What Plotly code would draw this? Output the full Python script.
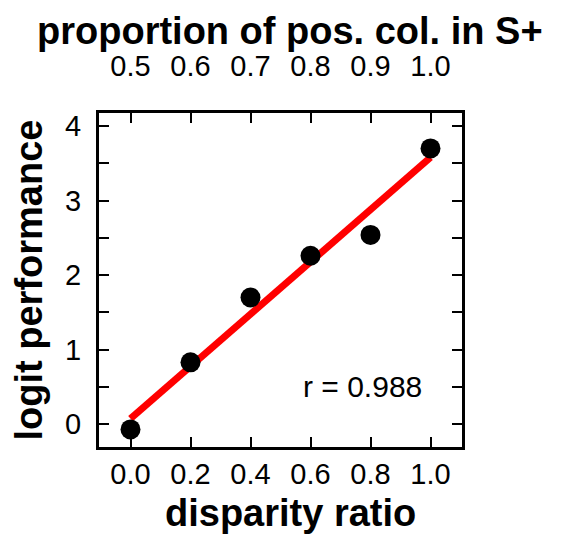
import numpy as np
import plotly.graph_objects as go

disparity = [0.0, 0.2, 0.4, 0.6, 0.8, 1.0]
logit_perf = [-0.07, 0.83, 1.70, 2.26, 2.54, 3.70]
bottom_ticks = [0.0, 0.2, 0.4, 0.6, 0.8, 1.0]
bottom_labels = ["0.0", "0.2", "0.4", "0.6", "0.8", "1.0"]
top_labels = ["0.5", "0.6", "0.7", "0.8", "0.9", "1.0"]
y_ticks = [0, 0.5, 1, 1.5, 2, 2.5, 3, 3.5, 4]
y_labels = ["0", "", "1", "", "2", "", "3", "", "4"]
r_text = "r = 0.988"

slope, intercept = np.polyfit(disparity, logit_perf, 1)
fit_x = [disparity[0], disparity[-1]]
fit_y = [intercept + slope * v for v in fit_x]

FONT = "Liberation Sans, Arial, sans-serif"
TICKF = dict(family=FONT, size=29, color="black")
TITLEF = dict(family=FONT, size=38, color="black")

fig = go.Figure()
fig.add_trace(go.Scatter(x=fit_x, y=fit_y, mode="lines",
                         line=dict(color="#ff0000", width=7), showlegend=False))
fig.add_trace(go.Scatter(x=disparity, y=logit_perf, mode="markers",
                         marker=dict(color="black", size=20), showlegend=False))
fig.add_trace(go.Scatter(x=disparity, y=logit_perf, xaxis="x2", mode="markers",
                         marker=dict(opacity=0), hoverinfo="skip", showlegend=False))

xr = [-0.105, 1.105]
common = dict(range=xr, tickvals=bottom_ticks, ticks="inside", ticklen=10, tickwidth=2,
              tickcolor="black", showgrid=False, zeroline=False, tickfont=TICKF)
fig.update_layout(
    width=577, height=549,
    margin=dict(l=0, r=0, t=0, b=0),
    plot_bgcolor="white", paper_bgcolor="white",
    xaxis=dict(**common, ticktext=bottom_labels, showline=True, linewidth=3, linecolor="black",
               mirror=True, ticklabelstandoff=0, domain=[99 / 577, 462 / 577]),
    xaxis2=dict(**common, ticktext=top_labels, overlaying="x", side="top", showline=False,
                ticklabelstandoff=31),
    yaxis=dict(range=[-0.3, 4.17], tickvals=y_ticks, ticktext=y_labels, ticks="inside",
               ticklen=10, tickwidth=2, tickcolor="black", showline=True, linewidth=3,
               linecolor="black", mirror="ticks", showgrid=False, zeroline=False,
               tickfont=TICKF, ticklabelstandoff=9, domain=[1 - 446 / 549, 1 - 111 / 549]),
    annotations=[
        dict(x=0.774, y=0.51, xref="x", yref="y", text=r_text, showarrow=False,
             font=dict(family=FONT, size=30, color="black")),
        dict(x=290 / 577, y=1 - 28 / 549, xref="paper", yref="paper", text="<b>proportion of pos. col. in S+</b>",
             showarrow=False, font=TITLEF, xanchor="center", yanchor="middle"),
        dict(x=290 / 577, y=1 - 513 / 549, xref="paper", yref="paper", text="<b>disparity ratio</b>",
             showarrow=False, font=TITLEF, xanchor="center", yanchor="middle"),
        dict(x=29 / 577, y=1 - 279 / 549, xref="paper", yref="paper", text="<b>logit performance</b>",
             showarrow=False, font=TITLEF, textangle=-90, xanchor="center", yanchor="middle"),
    ],
)
fig.write_html("out.html")
